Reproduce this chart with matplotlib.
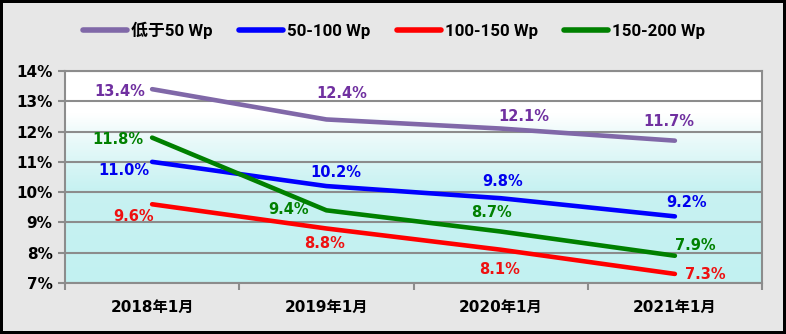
import numpy as np
import matplotlib
matplotlib.use("Agg")
import matplotlib.pyplot as plt
from matplotlib.colors import LinearSegmentedColormap

plt.rcParams['font.family'] = ['DejaVu Sans', 'Noto Sans CJK SC']

categories = ["2018年1月", "2019年1月", "2020年1月", "2021年1月"]
series_names = ["低于50 Wp", "50-100 Wp", "100-150 Wp", "150-200 Wp"]
below_50 = [13.4, 12.4, 12.1, 11.7]
w50_100 = [11.0, 10.2, 9.8, 9.2]
w100_150 = [9.6, 8.8, 8.1, 7.3]
w150_200 = [11.8, 9.4, 8.7, 7.9]
y_ticks = [7, 8, 9, 10, 11, 12, 13, 14]

line_colors = ["#8068A8", "#0000FF", "#FF0000", "#008000"]
text_colors = ["#7030A0", "#0000EE", "#EE1111", "#008000"]
series = [below_50, w50_100, w100_150, w150_200]

# label centre offsets from each point, in pixels (x right, y up)
label_offsets = [
    [(-32, -2), (15, 26), (23, 12), (-6, 19)],
    [(-28, -9), (9, 14), (2, 17), (12, 14)],
    [(-19, -12), (-2, -15), (-1, -20), (30, -1)],
    [(-34, -2), (-38, 1), (-9, 19), (20, 10)],
]

legend_family = ["Roboto", "Noto Sans CJK SC"]

fig = plt.figure(figsize=(7.86, 3.34), dpi=100)
fig.patch.set_facecolor("#E7E7E7")
fig.patch.set_edgecolor("black")
fig.patch.set_linewidth(3)

ax = fig.add_axes([65 / 786, 51 / 334, 697 / 786, 212 / 334])
x = np.arange(len(categories))
ax.set_xlim(-0.5, len(categories) - 0.5)
ax.set_ylim(7, 14)

# vertical background gradient: white at top fading into pale cyan
grad = np.linspace(0, 1, 256).reshape(-1, 1)
cmap = LinearSegmentedColormap.from_list(
    "bg", [(0.0, "#C2F1F1"), (0.45, "#C8F2F2"), (0.72, "#F0FBFB"), (0.8, "#FFFFFF"), (1.0, "#FFFFFF")])
ax.imshow(grad, aspect="auto", cmap=cmap, origin="lower",
          extent=[-0.5, len(categories) - 0.5, 7, 14], zorder=0)

for yv in y_ticks:
    ax.axhline(yv, color="#8C8C8C", lw=1.5, zorder=1)

for i, (vals, name) in enumerate(zip(series, series_names)):
    ax.plot(x, vals, color=line_colors[i], lw=3.3, label=name, zorder=3,
            solid_capstyle="round")
    for j, v in enumerate(vals):
        dx, dy = label_offsets[i][j]
        ax.annotate(f"{v:.1f}%", (x[j], v), xytext=(dx, dy), textcoords="offset pixels",
                    ha="center", va="center", color=text_colors[i], fontsize=10.5,
                    fontweight="bold", zorder=4)

ax.set_yticks(y_ticks)
ax.set_yticklabels([f"{v}%" for v in y_ticks], fontsize=11, fontweight="bold")
ax.set_xticks(x)
ax.set_xticklabels(categories, fontsize=11, fontweight="bold",
                   family=['DejaVu Sans', 'Noto Sans CJK SC'])
ax.set_xticks(np.arange(-0.5, len(categories)), minor=True)
ax.tick_params(axis="x", which="major", length=0, pad=12)
ax.tick_params(axis="x", which="minor", length=5, width=1.5, color="#8C8C8C")
ax.tick_params(axis="y", length=5, width=1.5, color="#8C8C8C", pad=4)

for s in ax.spines.values():
    s.set_color("#8C8C8C")
    s.set_linewidth(1.5)

leg = fig.legend(loc="center left", bbox_to_anchor=(83 / 786, 1 - 30.5 / 334), ncol=4, frameon=False,
                 prop={"weight": "bold", "size": 12.2, "family": legend_family},
                 handlelength=2.6, handletextpad=0.24, columnspacing=1.55,
                 borderpad=0, borderaxespad=0)
for h in leg.get_lines():
    h.set_linewidth(4)

fig.savefig("out.png", dpi=100, facecolor=fig.get_facecolor(), edgecolor=fig.get_edgecolor())
